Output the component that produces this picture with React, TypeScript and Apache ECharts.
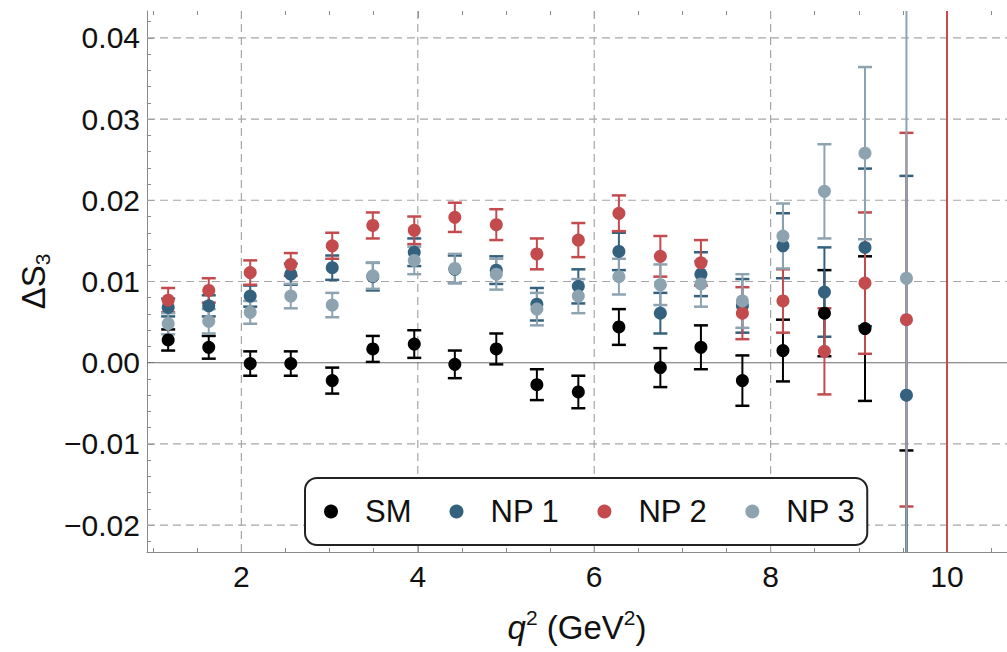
import React, { useEffect, useRef } from "react";
import * as echarts from "echarts";

// ---- data ----
const qBins = [1.17, 1.63, 2.10, 2.56, 3.03, 3.49, 3.96, 4.42, 4.89, 5.35, 5.82, 6.28, 6.75, 7.21, 7.68, 8.14, 8.61, 9.07, 9.54];

const smVal = [0.0028, 0.0019, -0.0001, -0.0001, -0.0022, 0.0017, 0.0023, -0.0002, 0.0017, -0.0027, -0.0036, 0.0044, -0.0006, 0.0019, -0.0022, 0.0015, 0.0061, 0.0042, -0.0330];
const smErr = [0.0013, 0.0014, 0.0015, 0.0015, 0.0016, 0.0016, 0.0017, 0.0017, 0.0019, 0.0019, 0.0020, 0.0022, 0.0024, 0.0027, 0.0031, 0.0038, 0.0053, 0.0089, 0.0222];

const np1Val = [0.0068, 0.0070, 0.0082, 0.0109, 0.0117, 0.0106, 0.0136, 0.0115, 0.0114, 0.0072, 0.0094, 0.0137, 0.0061, 0.0109, 0.0070, 0.0144, 0.0087, 0.0142, -0.0040];
const np1Err = [0.0011, 0.0013, 0.0013, 0.0013, 0.0015, 0.0017, 0.0017, 0.0017, 0.0017, 0.0020, 0.0021, 0.0023, 0.0025, 0.0027, 0.0033, 0.0040, 0.0055, 0.0097, 0.0270];

const np2Val = [0.0077, 0.0089, 0.0111, 0.0121, 0.0144, 0.0169, 0.0163, 0.0179, 0.0170, 0.0134, 0.0151, 0.0184, 0.0131, 0.0123, 0.0061, 0.0076, 0.0014, 0.0098, 0.0053];
const np2Err = [0.0015, 0.0015, 0.0015, 0.0014, 0.0016, 0.0016, 0.0017, 0.0018, 0.0019, 0.0019, 0.0021, 0.0022, 0.0025, 0.0028, 0.0032, 0.0039, 0.0053, 0.0087, 0.0230];

const np3Val = [0.0048, 0.0051, 0.0062, 0.0082, 0.0071, 0.0107, 0.0126, 0.0116, 0.0109, 0.0066, 0.0082, 0.0106, 0.0096, 0.0097, 0.0076, 0.0156, 0.0211, 0.0258, 0.0104];
const np3Err = [0.0013, 0.0015, 0.0014, 0.0015, 0.0015, 0.0016, 0.0017, 0.0018, 0.0019, 0.0020, 0.0021, 0.0022, 0.0025, 0.0028, 0.0033, 0.0040, 0.0058, 0.0106, 0.0600];

const seriesNames = ["SM", "NP 1", "NP 2", "NP 3"];
const seriesColors = ["#000000", "#34627e", "#c34a4d", "#8ea3b0"];

const thresholdQ2 = [10.0];

const xMajorTicks = [2, 4, 6, 8, 10];
const xMinorTicks = [1, 1.5, 2, 2.5, 3, 3.5, 4, 4.5, 5, 5.5, 6, 6.5, 7, 7.5, 8, 8.5, 9, 9.5, 10, 10.5];
const yMajorTicks = [-0.02, -0.01, 0, 0.01, 0.02, 0.03, 0.04];
const yGridLines = [-0.02, -0.01, 0.01, 0.02, 0.03, 0.04];
const yMinorTicks = [-0.022, -0.02, -0.018, -0.016, -0.014, -0.012, -0.01, -0.008, -0.006, -0.004, -0.002, 0, 0.002, 0.004, 0.006, 0.008, 0.01, 0.012, 0.014, 0.016, 0.018, 0.02, 0.022, 0.024, 0.026, 0.028, 0.03, 0.032, 0.034, 0.036, 0.038, 0.04, 0.042];

const X_MIN = 0.93;
const X_MAX = 10.68;
const Y_MIN = -0.0233;
const Y_MAX = 0.0433;

const FONT = "'Liberation Sans', Arial, sans-serif";
const FRAME = "#8a8a8a";

export default function App() {
  const ref = useRef<HTMLDivElement | null>(null);

  useEffect(() => {
    if (!ref.current) return;
    const chart = echarts.init(ref.current, null, { renderer: "svg" });

    const vals = [smVal, np1Val, np2Val, np3Val];
    const errs = [smErr, np1Err, np2Err, np3Err];

    const errRender = (color: string) => (params: any, api: any) => {
      const x = api.value(0);
      const lo = api.value(1);
      const hi = api.value(2);
      const pLo = api.coord([x, lo]);
      const pHi = api.coord([x, hi]);
      const cs = params.coordSys;
      const top = cs.y;
      const bottom = cs.y + cs.height;
      const yTop = Math.max(pHi[1], top);
      const yBot = Math.min(pLo[1], bottom);
      if (yTop > yBot) return null;
      const px = pLo[0];
      const children: any[] = [
        { type: "line", shape: { x1: px, y1: yTop, x2: px, y2: yBot }, style: { stroke: color, lineWidth: 2 } },
      ];
      const capHalf = 7;
      [pHi[1], pLo[1]].forEach((cy) => {
        if (cy >= top && cy <= bottom) {
          children.push({ type: "line", shape: { x1: px - capHalf, y1: cy, x2: px + capHalf, y2: cy }, style: { stroke: color, lineWidth: 2.5 } });
        }
      });
      return { type: "group", children };
    };

    const vGridRender = (params: any, api: any) => {
      const v = api.value(0);
      const p = api.coord([v, 0]);
      const cs = params.coordSys;
      return { type: "line", shape: { x1: p[0], y1: cs.y, x2: p[0], y2: cs.y + cs.height }, style: { stroke: "#a6a6a6", lineWidth: 1.2, lineDash: [8, 5] } };
    };
    const hGridRender = (params: any, api: any) => {
      const v = api.value(1);
      const p = api.coord([X_MIN, v]);
      const cs = params.coordSys;
      return { type: "line", shape: { x1: cs.x, y1: p[1], x2: cs.x + cs.width, y2: p[1] }, style: { stroke: "#a6a6a6", lineWidth: 1.2, lineDash: [8, 5] } };
    };
    const zeroRender = (params: any, api: any) => {
      const p = api.coord([X_MIN, api.value(1)]);
      const cs = params.coordSys;
      return { type: "line", shape: { x1: cs.x, y1: p[1], x2: cs.x + cs.width, y2: p[1] }, style: { stroke: "#6b6b6b", lineWidth: 1.2 } };
    };
    const redLineRender = (params: any, api: any) => {
      const p = api.coord([api.value(0), 0]);
      const cs = params.coordSys;
      return { type: "line", shape: { x1: p[0], y1: cs.y, x2: p[0], y2: cs.y + cs.height }, style: { stroke: "#c8484b", lineWidth: 2 } };
    };

    const series: any[] = [
      { type: "custom", name: "vgrid", silent: true, renderItem: vGridRender, data: xMajorTicks.map((v) => [v, 0]), encode: { x: 0, y: 1 } },
      { type: "custom", name: "hgrid", silent: true, renderItem: hGridRender, data: yGridLines.map((v) => [X_MIN, v]), encode: { x: 0, y: 1 } },
      { type: "custom", name: "zero", silent: true, renderItem: zeroRender, data: [[X_MIN, 0]], encode: { x: 0, y: 1 } },
      { type: "custom", name: "threshold", silent: true, renderItem: redLineRender, data: thresholdQ2.map((v) => [v, 0]), encode: { x: 0, y: 1 } },
    ];

    seriesNames.forEach((name, k) => {
      series.push({
        type: "custom",
        name: name + " err",
        silent: true,
        renderItem: errRender(seriesColors[k]),
        data: qBins.map((x, i) => [x, vals[k][i] - errs[k][i], vals[k][i] + errs[k][i]]),
        encode: { x: 0, y: [1, 2] },
      });
      series.push({
        type: "scatter",
        name,
        symbol: "circle",
        symbolSize: 13,
        itemStyle: { color: seriesColors[k], opacity: 1 },
        clip: true,
        silent: true,
        data: qBins.map((x, i) => [x, vals[k][i]]),
      });
    });

    const tickStyle = { color: FRAME, width: 1 };
    const baseX = { type: "value", min: X_MIN, max: X_MAX, splitLine: { show: false } };
    const baseY = { type: "value", min: Y_MIN, max: Y_MAX, splitLine: { show: false } };

    const option: any = {
      animation: false,
      backgroundColor: "#ffffff",
      textStyle: { fontFamily: FONT },
      grid: { left: 147, right: 0, top: 11, bottom: 98, containLabel: false },
      legend: {
        data: seriesNames,
        left: 305,
        top: 478,
        orient: "horizontal",
        icon: "circle",
        itemWidth: 14,
        itemHeight: 14,
        itemGap: 38,
        padding: [18, 12, 18, 19],
        borderColor: "#222",
        borderWidth: 2,
        borderRadius: 12,
        backgroundColor: "#ffffff",
        selectedMode: false,
        textStyle: { fontSize: 31, color: "#111", fontFamily: FONT, padding: [0, 0, 0, 22] },
      },
      xAxis: [
        {
          ...baseX,
          position: "bottom",
          axisLine: { show: true, onZero: false, lineStyle: tickStyle },
          axisTick: { show: true, inside: true, length: 7, customValues: xMajorTicks, lineStyle: tickStyle },
          axisLabel: { show: true, customValues: xMajorTicks, fontSize: 30, color: "#111", margin: 9, fontFamily: FONT },
          name: "{q|q}{sup|2} (GeV{sup|2})",
          nameLocation: "middle",
          nameGap: 55,
          nameTextStyle: {
            fontSize: 33, color: "#111", fontFamily: FONT, lineHeight: 40,
            rich: {
              q: { fontSize: 33, fontStyle: "italic", fontFamily: FONT, lineHeight: 40, color: "#111" },
              sup: { fontSize: 21, verticalAlign: "top", lineHeight: 21, fontFamily: FONT, color: "#111" },
            },
          },
        },
        {
          ...baseX,
          position: "bottom",
          axisLine: { show: false, onZero: false },
          axisTick: { show: true, inside: true, length: 4, customValues: xMinorTicks, lineStyle: tickStyle },
          axisLabel: { show: false },
        },
        {
          ...baseX,
          position: "top",
          axisLine: { show: false, onZero: false },
          axisTick: { show: true, inside: true, length: 7, customValues: xMajorTicks, lineStyle: tickStyle },
          axisLabel: { show: false },
        },
        {
          ...baseX,
          position: "top",
          axisLine: { show: false, onZero: false },
          axisTick: { show: true, inside: true, length: 4, customValues: xMinorTicks, lineStyle: tickStyle },
          axisLabel: { show: false },
        },
      ],
      yAxis: [
        {
          ...baseY,
          position: "left",
          axisLine: { show: true, onZero: false, lineStyle: tickStyle },
          axisTick: { show: true, inside: true, length: 7, customValues: yMajorTicks, lineStyle: tickStyle },
          axisLabel: {
            show: true,
            customValues: yMajorTicks,
            fontSize: 30,
            color: "#111",
            margin: 7,
            fontFamily: FONT,
            formatter: (v: number) => (v < -1e-9 ? "\u2212" + Math.abs(v).toFixed(2) : Math.abs(v).toFixed(2)),
          },
          name: "{d|ΔS}{sub|3}",
          nameLocation: "middle",
          nameRotate: 90,
          nameGap: 80,
          nameTextStyle: {
            fontSize: 33, color: "#111", fontFamily: FONT, lineHeight: 40,
            rich: {
              d: { fontSize: 33, fontFamily: FONT, lineHeight: 40, color: "#111" },
              sub: { fontSize: 21, verticalAlign: "bottom", lineHeight: 21, fontFamily: FONT, color: "#111" },
            },
          },
        },
        {
          ...baseY,
          position: "left",
          axisLine: { show: false, onZero: false },
          axisTick: { show: true, inside: true, length: 4, customValues: yMinorTicks, lineStyle: tickStyle },
          axisLabel: { show: false },
        },
      ],
      series,
    };

    chart.setOption(option);
    return () => chart.dispose();
  }, []);

  return (
    <div
      ref={ref}
      style={{ position: "fixed", left: 0, top: 0, width: 1007, height: 652, background: "#fff" }}
    />
  );
}
